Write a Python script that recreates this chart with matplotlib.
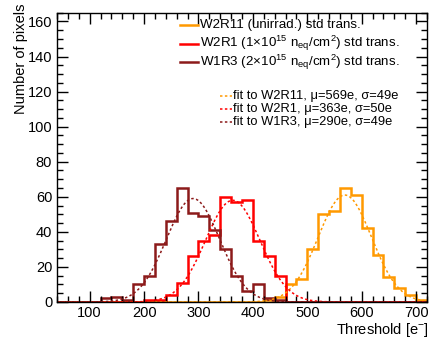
import numpy as np
import matplotlib
matplotlib.use("Agg")
import matplotlib.pyplot as plt

plt.rcParams['font.family'] = ['Liberation Sans', 'DejaVu Sans']
plt.rcParams['mathtext.fontset'] = 'custom'
plt.rcParams['mathtext.rm'] = 'Liberation Sans'
plt.rcParams['mathtext.it'] = 'Liberation Sans:italic'

# threshold bins, 20 e wide, 40..720
edges = np.arange(40, 721, 20)

w2r11 = [0]*19 + [1, 3, 10, 13, 30, 50, 52, 65, 61, 42, 27, 14, 8, 4, 1]
w2r1 = [0]*8 + [1, 1, 4, 11, 26, 35, 38, 60, 57, 58, 35, 26, 15] + [0]*13
w1r3 = [0]*4 + [2, 3, 1, 10, 15, 33, 46, 65, 51, 49, 41, 30, 15, 6, 10, 2, 1] + [0]*13

fit_mu = [569, 363, 290]
fit_sigma = [49, 50, 49]
fit_peak = [61, 58, 59]

names = ["W2R11", "W2R1", "W1R3"]
hist_labels = ["W2R11 (unirrad.) std trans.",
               "W2R1 (1×10$^{15}$ n$_{\\rm eq}$/cm$^{2}$) std trans.",
               "W1R3 (2×10$^{15}$ n$_{\\rm eq}$/cm$^{2}$) std trans."]
colors = ["#ff9900", "#ff0000", "#8c1a1a"]

fig = plt.figure(figsize=(4.30, 3.47), dpi=100)
ax = fig.add_axes([0.1326, 0.1297, 0.8604, 0.8337])

for cnt, c in zip([w2r11, w2r1, w1r3], colors):
    ax.stairs(cnt, edges, color=c, lw=1.8, baseline=0)

xf = np.linspace(40, 720, 400)
for mu, sg, pk, c in zip(fit_mu, fit_sigma, fit_peak, colors):
    yf = pk*np.exp(-0.5*((xf-mu)/sg)**2)
    ax.plot(xf, yf, color=c, lw=1.1, dashes=(1.6, 1.6))

ax.set_xlim(40, 720)
ax.set_ylim(0, 165)
ax.set_xticks(np.arange(100, 701, 100))
ax.set_xticks(np.arange(40, 721, 20), minor=True)
ax.set_yticks(np.arange(0, 161, 20))
ax.set_yticks(np.arange(0, 166, 5), minor=True)
ax.tick_params(which='both', direction='in', top=True, right=True, labelsize=10.5, width=1.0)
ax.tick_params(which='major', length=8)
ax.tick_params(which='minor', length=4)
ax.tick_params(axis='x', pad=3)
for s in ax.spines.values():
    s.set_linewidth(1.0)

ax.set_ylabel("Number of pixels", fontsize=10.5)
ax.yaxis.set_label_coords(-0.078, 0.84)
ax.set_xlabel("Threshold [e$^{-}$]", fontsize=10.5)
ax.xaxis.set_label_coords(0.88, -0.065)

# legend boxes drawn by hand (axes fraction)
tr = ax.transAxes
rows1 = [0.958, 0.893, 0.828]
for y, c, lab in zip(rows1, colors, hist_labels):
    ax.plot([0.332, 0.381], [y, y], color=c, lw=1.8, transform=tr, clip_on=False)
    ax.text(0.386, y, lab, transform=tr, fontsize=9.6, va='center', ha='left')

rows2 = [0.712, 0.667, 0.622]
for y, c, n, mu, sg in zip(rows2, colors, names, fit_mu, fit_sigma):
    ax.plot([0.441, 0.472], [y, y], color=c, lw=1.1, dashes=(1.6, 1.6), transform=tr, clip_on=False)
    ax.text(0.475, y, "fit to %s, μ=%de, σ=%de" % (n, mu, sg), transform=tr,
            fontsize=9.3, va='center', ha='left')

fig.savefig("out.png", dpi=100)
